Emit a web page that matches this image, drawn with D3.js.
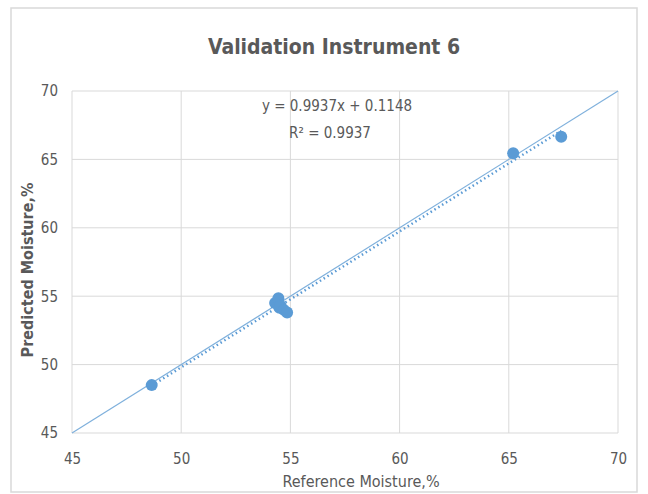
<!DOCTYPE html>
<html>
<head>
<meta charset="utf-8">
<script src="https://cdn.jsdelivr.net/npm/d3@7"></script>
<style>
  body { margin: 0; background: #fff; }
  text { font-family: "DejaVu Sans Condensed", "DejaVu Sans", sans-serif; font-stretch: condensed; }
</style>
</head>
<body>
<svg id="chart"></svg>
<script>
// reference vs predicted moisture
const refMoisture = [48.65, 54.3, 54.45, 54.5, 54.55, 54.7, 54.85, 65.2, 67.4];
const predMoisture = [48.5, 54.5, 54.85, 54.15, 54.3, 54.0, 53.8, 65.45, 66.65];
const xTicks = [45, 50, 55, 60, 65, 70];
const yTicks = [45, 50, 55, 60, 65, 70];
const slope = 0.9937, intercept = 0.1148, r2 = 0.9937;

const width = 648, height = 494;
const margin = { top: 91, right: 30, bottom: 61, left: 72 };

const svg = d3.select('#chart')
    .attr('width', width)
    .attr('height', height);

// outer frame
svg.append('rect')
    .attr('x', 11).attr('y', 8)
    .attr('width', 626).attr('height', 484)
    .attr('fill', '#fff')
    .attr('stroke', '#d9d9d9')
    .attr('stroke-width', 1.5);

const x = d3.scaleLinear().domain([45, 70]).range([margin.left, width - margin.right]);
const y = d3.scaleLinear().domain([45, 70]).range([height - margin.bottom, margin.top]);

// grid
svg.append('g')
    .selectAll('line')
    .data(xTicks)
    .enter()
    .append('line')
    .attr('x1', d => x(d)).attr('x2', d => x(d))
    .attr('y1', y(45)).attr('y2', y(70))
    .attr('stroke', '#d9d9d9');

svg.append('g')
    .selectAll('line')
    .data(yTicks)
    .enter()
    .append('line')
    .attr('x1', x(45)).attr('x2', x(70))
    .attr('y1', d => y(d)).attr('y2', d => y(d))
    .attr('stroke', '#d9d9d9');

// tick labels via axes, lines hidden
const xAxis = svg.append('g')
    .attr('transform', `translate(0,${y(45)})`)
    .call(d3.axisBottom(x).tickValues(xTicks).tickSize(0).tickPadding(20));
const yAxis = svg.append('g')
    .attr('transform', `translate(${x(45)},0)`)
    .call(d3.axisLeft(y).tickValues(yTicks).tickSize(0).tickPadding(14));
[xAxis, yAxis].forEach(a => {
    a.select('.domain').remove();
    a.selectAll('text')
        .style('font-family', '"DejaVu Sans Condensed", "DejaVu Sans", sans-serif')
        .style('font-size', '15px')
        .attr('fill', '#595959');
});

// 1:1 line
svg.append('line')
    .attr('x1', x(45)).attr('y1', y(45))
    .attr('x2', x(70)).attr('y2', y(70))
    .attr('stroke', '#7fb0dc')
    .attr('stroke-width', 1.2);

// trend line
const xMin = d3.min(refMoisture), xMax = d3.max(refMoisture);
svg.append('line')
    .attr('x1', x(xMin)).attr('y1', y(slope * xMin + intercept))
    .attr('x2', x(xMax)).attr('y2', y(slope * xMax + intercept))
    .attr('stroke', '#5b9bd5')
    .attr('stroke-width', 2.5)
    .attr('stroke-dasharray', '1.5,3');

// points
svg.append('g')
    .selectAll('circle')
    .data(refMoisture)
    .enter()
    .append('circle')
    .attr('cx', d => x(d))
    .attr('cy', (d, i) => y(predMoisture[i]))
    .attr('r', 6)
    .attr('fill', '#5b9bd5');

// equation
svg.append('text')
    .attr('x', 337).attr('y', 111)
    .attr('text-anchor', 'middle')
    .style('font-size', '15px')
    .attr('fill', '#595959')
    .text(`y = ${slope}x + ${intercept}`);
svg.append('text')
    .attr('x', 330).attr('y', 138)
    .attr('text-anchor', 'middle')
    .style('font-size', '15px')
    .attr('fill', '#595959')
    .text(`R² = ${r2}`);

// title
svg.append('text')
    .attr('x', 334).attr('y', 54)
    .attr('text-anchor', 'middle')
    .style('font-size', '21px')
    .style('font-weight', 'bold')
    .attr('fill', '#595959')
    .text('Validation Instrument 6');

// axis titles
svg.append('text')
    .attr('x', 361).attr('y', 487)
    .attr('text-anchor', 'middle')
    .style('font-size', '16px')
    .attr('fill', '#595959')
    .text('Reference Moisture,%');

svg.append('text')
    .attr('transform', `translate(33,${(y(45) + y(70)) / 2 + 8}) rotate(-90)`)
    .attr('text-anchor', 'middle')
    .style('font-size', '16px')
    .style('font-weight', 'bold')
    .attr('fill', '#595959')
    .text('Predicted Moisture,%');
</script>
</body>
</html>
